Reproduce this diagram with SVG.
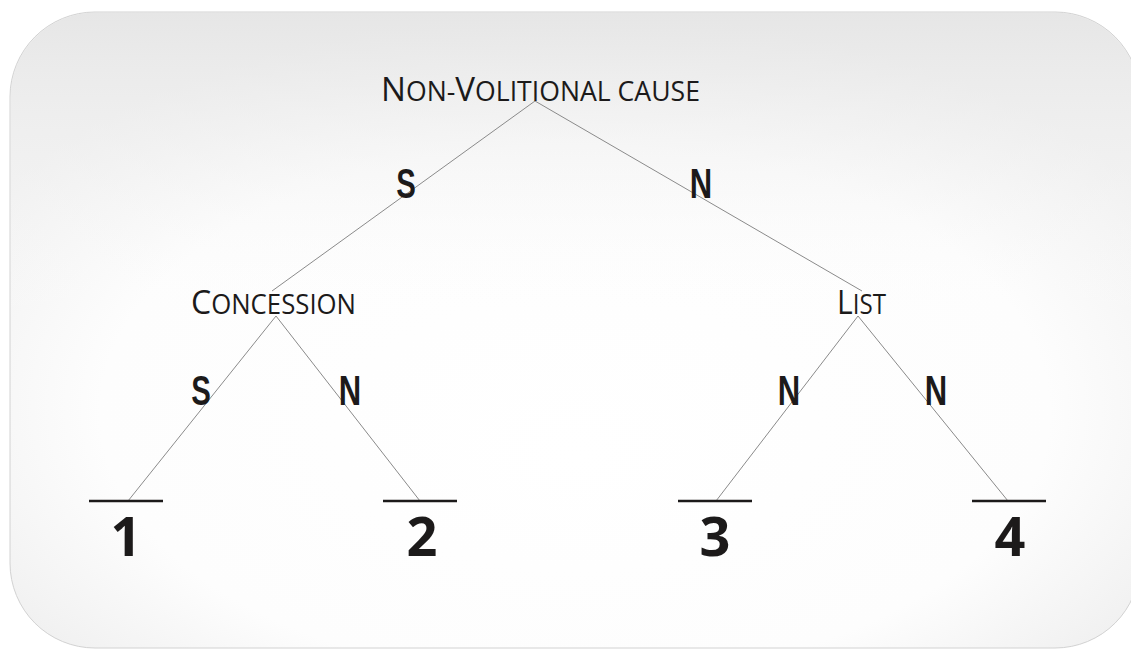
<svg xmlns="http://www.w3.org/2000/svg" width="1131" height="649" viewBox="0 0 1131 649">
  <defs>
    <radialGradient id="bg" cx="0.5" cy="0.6" r="0.6" fx="0.5" fy="0.7">
      <stop offset="0" stop-color="#ffffff"/>
      <stop offset="0.7" stop-color="#fdfdfd"/>
      <stop offset="1" stop-color="#f1f1f1"/>
    </radialGradient>
    <linearGradient id="topShade" x1="0" y1="0" x2="0" y2="1">
      <stop offset="0" stop-color="#e4e4e4" stop-opacity="0.85"/>
      <stop offset="0.25" stop-color="#f0f0f0" stop-opacity="0.4"/>
      <stop offset="0.5" stop-color="#ffffff" stop-opacity="0"/>
    </linearGradient>
  </defs>
  <style>
    .title { font-family: "Open Sans", "Noto Sans", sans-serif; fill: #1c1a1a; }
    .lbl { font-family: "Liberation Sans", Arial, sans-serif; font-weight: bold; font-size: 42px; fill: #1c1a1a; text-anchor: middle; }
    .num { font-family: "Open Sans", "Noto Sans", sans-serif; font-weight: bold; font-size: 54px; fill: #1c1a1a; text-anchor: middle; }
    .edge { stroke: #8a8a8a; stroke-width: 1; fill: none; }
    .bar { stroke: #1c1a1a; stroke-width: 2.6; }
  </style>
  <rect x="0" y="0" width="1131" height="649" fill="#ffffff"/>
  <rect x="10" y="12" width="1130" height="636" rx="85" ry="85" fill="url(#bg)" stroke="#d2d2d2" stroke-width="1"/>
  <rect x="10.5" y="12.5" width="1129" height="635" rx="85" ry="85" fill="url(#topShade)"/>

  <g id="connectors">
    <line class="edge" x1="535" y1="101" x2="272" y2="291"/>
    <line class="edge" x1="535" y1="101" x2="862" y2="291"/>
    <line class="edge" x1="276" y1="316" x2="128" y2="501"/>
    <line class="edge" x1="276" y1="316" x2="420" y2="501"/>
    <line class="edge" x1="858" y1="316" x2="716" y2="501"/>
    <line class="edge" x1="858" y1="316" x2="1008" y2="501"/>
  </g>

  <g id="edge-labels">
    <text class="lbl" transform="translate(406 198) scale(0.7 1)">S</text>
    <text class="lbl" transform="translate(701 198) scale(0.74 1)">N</text>
    <text class="lbl" transform="translate(201 405) scale(0.7 1)">S</text>
    <text class="lbl" transform="translate(350 405) scale(0.74 1)">N</text>
    <text class="lbl" transform="translate(789 405) scale(0.74 1)">N</text>
    <text class="lbl" transform="translate(936 405) scale(0.74 1)">N</text>
  </g>

  <g id="node-root">
    <text class="title" x="381" y="101" textLength="319" lengthAdjust="spacingAndGlyphs"><tspan font-size="33">N</tspan><tspan font-size="26.5">ON-</tspan><tspan font-size="33">V</tspan><tspan font-size="26.5">OLITIONAL CAUSE</tspan></text>
  </g>
  <g id="node-concession">
    <text class="title" x="191" y="314" textLength="165" lengthAdjust="spacingAndGlyphs"><tspan font-size="33">C</tspan><tspan font-size="26.5">ONCESSION</tspan></text>
  </g>
  <g id="node-list">
    <text class="title" x="837" y="314" textLength="49" lengthAdjust="spacingAndGlyphs"><tspan font-size="33">L</tspan><tspan font-size="26.5">IST</tspan></text>
  </g>

  <g id="leaf-1">
    <line class="bar" x1="89" y1="501" x2="163" y2="501"/>
    <text class="num" x="126" y="556">1</text>
  </g>
  <g id="leaf-2">
    <line class="bar" x1="383" y1="501" x2="457" y2="501"/>
    <text class="num" x="422" y="556">2</text>
  </g>
  <g id="leaf-3">
    <line class="bar" x1="678" y1="501" x2="752" y2="501"/>
    <text class="num" x="715" y="556">3</text>
  </g>
  <g id="leaf-4">
    <line class="bar" x1="972" y1="501" x2="1046" y2="501"/>
    <text class="num" x="1010" y="556">4</text>
  </g>
</svg>
